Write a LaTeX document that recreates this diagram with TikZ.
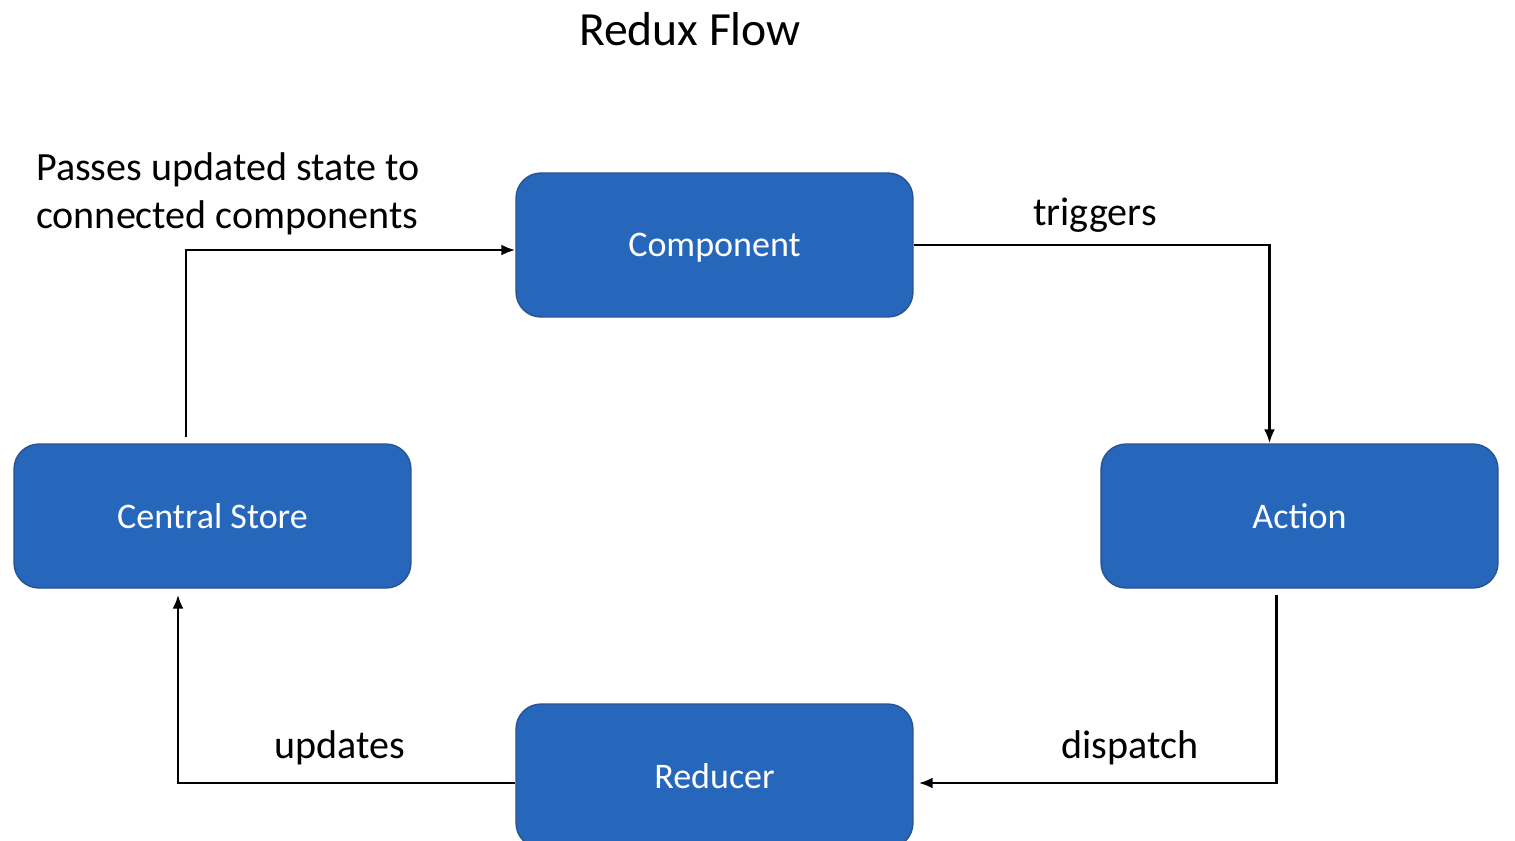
\documentclass[tikz,border=0pt]{standalone}
\usepackage{fontspec}
\setmainfont{Carlito}
\usepackage{tikz}
\usetikzlibrary{positioning, arrows.meta}
\definecolor{boxblue}{RGB}{38,103,187}
\definecolor{boxedge}{RGB}{41,82,145}
\tikzset{box/.style={draw=boxedge, thick, fill=boxblue, rounded corners=0.5cm, minimum width=7.94cm, minimum height=2.88cm, text depth=0pt, text=white, font=\fontsize{20.5}{24}\selectfont}, flow/.style={-{Latex[length=0.28cm, width=0.22cm]}, line width=1.5pt}}

\begin{document}
\begin{tikzpicture}[x=0.02cm, y=-0.02cm, every node/.style={font=\fontsize{22.8}{27.5}\selectfont}]
	\useasboundingbox (0,0) rectangle (1515,840);
	\clip (0,0) rectangle (1515,840);
	\node (Title) at (690,29) {\fontsize{27.1}{30}\selectfont Redux Flow};
	\node[box] (Component) at (714.5,245) {Component};
	\node[box] (Central Store) at (212.5,516) {Central Store};
	\node[box] (Action) at (1299.5,516) {Action};
	\node[box] (Reducer) at (714.5,776) {Reducer};
	\node[anchor=west, align=left] (Passes) at (30,194) {Passes updated state to\\ connected components};
	\node (Triggers) at (1095,215) {triggers};
	\node (Dispatch) at (1130,748) {dispatch};
	\node (Updates) at (340,748) {updates};
	\draw[flow, shorten <=0.12cm] ([xshift=-0.53cm]Central Store.north) |- ([yshift=-0.1cm]Component.west);
	\draw[flow] (Component.east) -| ([xshift=-0.6cm]Action.north);
	\draw[flow, shorten <=0.12cm, shorten >=0.1cm] ([xshift=-0.46cm]Action.south) |- ([yshift=-0.14cm]Reducer.east);
	\draw[flow, shorten >=0.12cm] ([yshift=-0.14cm]Reducer.west) -| ([xshift=-0.69cm]Central Store.south);
\end{tikzpicture}
\end{document}
